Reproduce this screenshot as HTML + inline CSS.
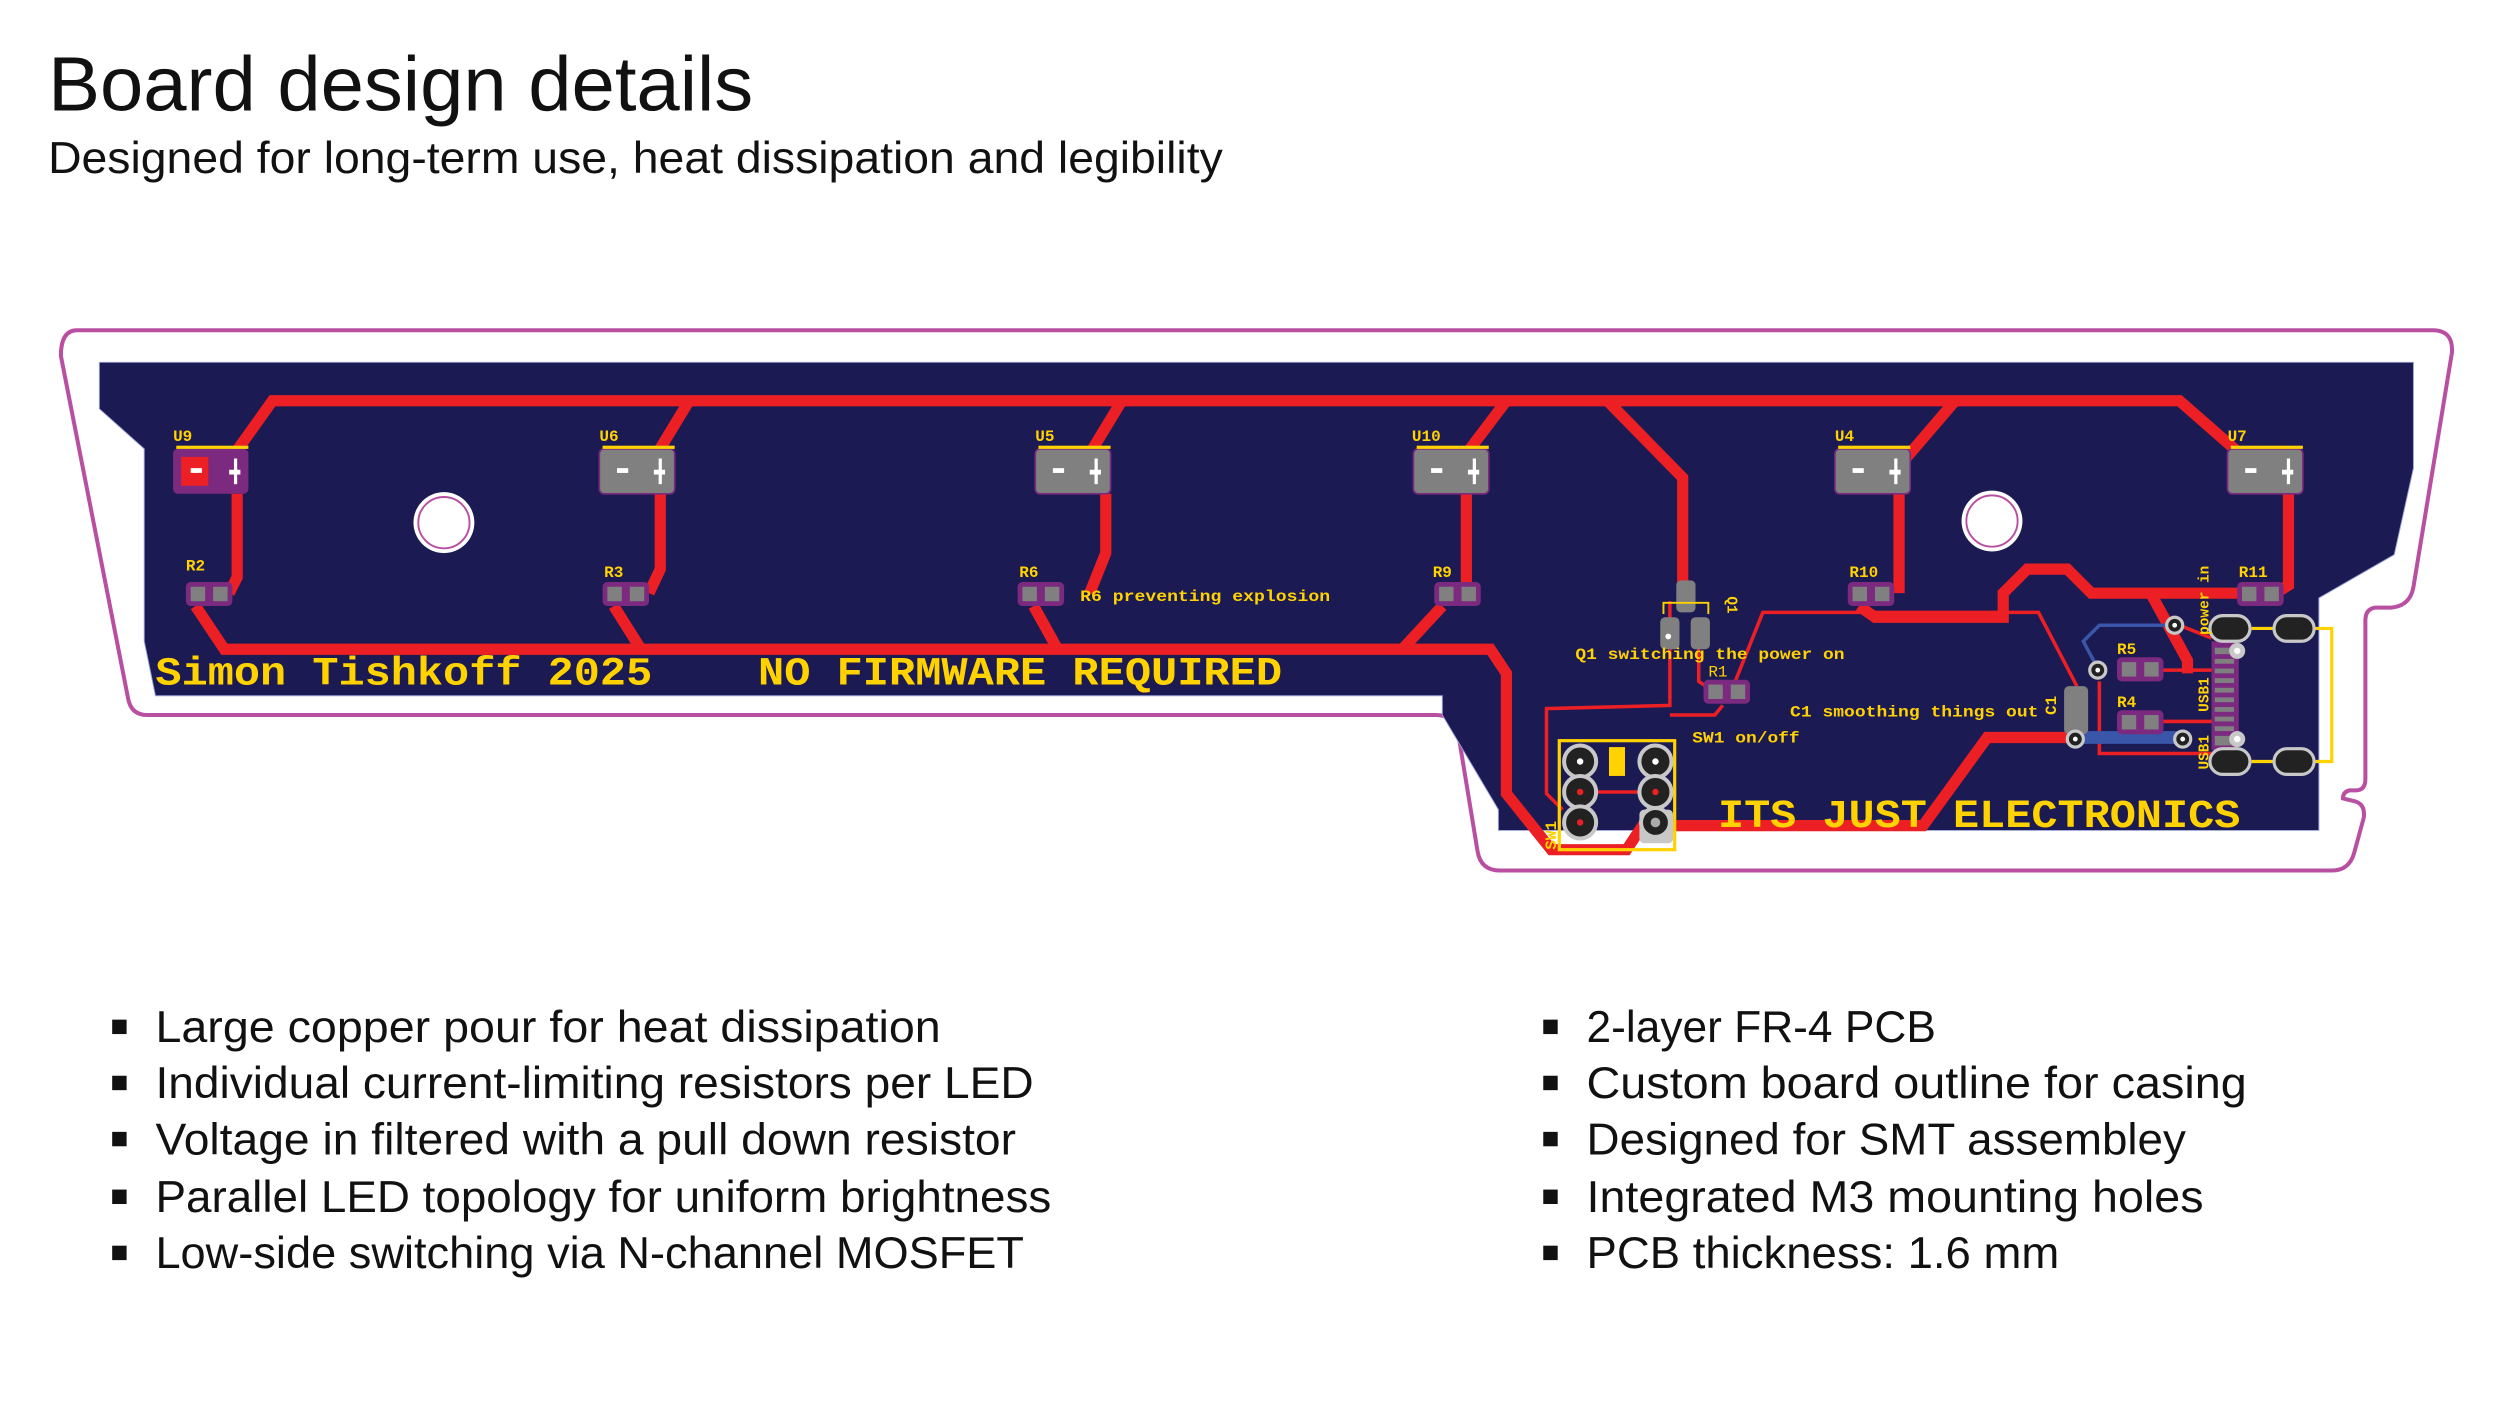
<!DOCTYPE html>
<html><head><meta charset="utf-8"><style>
html,body{margin:0;padding:0;background:#fff;}
svg{display:block;}
.m{font-family:"Liberation Mono",monospace;font-weight:bold;fill:#ffd200;}
.s{font-family:"Liberation Sans",sans-serif;fill:#111;}
</style></head><body>
<svg width="2500" height="1406" viewBox="0 0 1560 877" preserveAspectRatio="none" xmlns="http://www.w3.org/2000/svg">
<rect width="1560" height="877" fill="#fff"/>
<text x="30" y="69" class="s" font-size="48" textLength="440" lengthAdjust="spacingAndGlyphs">Board design details</text>
<text x="30" y="108" class="s" font-size="28" textLength="733" lengthAdjust="spacingAndGlyphs">Designed for long-term use, heat dissipation and legibility</text>

<!-- board outline -->
<path d="M48,206 L1518,206 Q1531,206 1530,220 L1506,366 Q1504,378 1492,379 L1482,379 Q1476,380 1476,387 L1476,486 Q1476,493 1470,493 L1466,493 Q1462,494 1462,498 L1470,500 Q1476,502 1475,510 L1469,532 Q1466,543 1455,543 L936,543 Q924,543 922,531 L910,458 Q908,446 896,446 L92,446 Q82,446 80,436 L38,222 Q38,206 48,206 Z" fill="none" stroke="#b94fa0" stroke-width="2.5"/>
<!-- navy board -->
<path d="M62,226 L1506,226 L1506,292 L1494,346 L1447,373 L1447,518 L935,518 L935,505 L900,446 L900,434 L97,434 L90,400 L90,280 L62,255 Z" fill="#1c1a52" stroke="#9aa3d8" stroke-width="0.6"/>

<!-- thick red traces -->
<g fill="none" stroke="#ec2024" stroke-width="7" stroke-linejoin="miter">
<path d="M145,285 L170,250 L1360,250 L1400,285"/>
<path d="M410,283 L430,250"/>
<path d="M680,283 L700,250"/>
<path d="M915,283 L940,250"/>
<path d="M1175,285 L1190,285 L1220,250"/>
<path d="M1003,250 L1050,298 L1050,365"/>
<path d="M148,308 L148,360 L143,370"/>
<path d="M412,308 L412,355 L405,370"/>
<path d="M690,308 L690,345 L680,370"/>
<path d="M915,308 L915,370"/>
<path d="M1185,308 L1185,370"/>
<path d="M1428,308 L1428,365 L1420,370"/>
<path d="M122,378 L140,405 L930,405 L940,420 L940,495 L960,520 L968,530 L1015,530 L1025,515 L1048,515 L1200,515 L1240,460 L1295,460"/>
<path d="M383,378 L400,405"/>
<path d="M645,378 L660,405"/>
<path d="M900,378 L875,405"/>
<path d="M1160,378 L1170,385 L1250,385 L1250,370 L1265,355 L1290,355 L1305,370 L1400,370"/>
<path d="M1342,370 L1365,412 L1365,420"/>
</g>
<!-- thin traces -->
<g fill="none" stroke="#ec2024" stroke-width="2.2">
<path d="M1042,375 L1042,440 L965,442 L965,495 L975,505"/>
<path d="M1060,395 L1060,425 L1070,432"/>
<path d="M1080,432 L1100,382 L1272,382 L1296,428"/>
<path d="M1075,440 L1070,446 L1042,446"/>
<path d="M1310,425 L1310,470 L1380,470"/>
<path d="M1330,418 L1380,418"/>
<path d="M1330,450 L1380,450"/>
<path d="M985,494 L1033,494"/>
<path d="M1360,390 L1380,398"/>
</g>
<g fill="none" stroke="#3a56a8" stroke-width="2.2">
<path d="M1360,390 L1310,390 L1300,400 L1308,415"/>
</g>
<rect x="1295" y="456" width="68" height="8" fill="#3a56a8"/>

<!-- mounting holes -->
<circle cx="277" cy="326" r="19" fill="#fff"/><circle cx="277" cy="326" r="16" fill="#fff" stroke="#b94fa0" stroke-width="1.2"/>
<circle cx="1243" cy="325" r="19" fill="#fff"/><circle cx="1243" cy="325" r="16" fill="#fff" stroke="#b94fa0" stroke-width="1.2"/>

<!-- LEDs -->
<g>
<rect x="108" y="280" width="47" height="28" rx="3" fill="#7b2a7f"/>
<rect x="113" y="285" width="17" height="18" fill="#ec2024"/>
<rect x="119" y="292" width="7" height="3" fill="#fff"/>
<rect x="146" y="286" width="2" height="16" fill="#fff"/><rect x="143" y="293" width="7" height="3" fill="#fff"/>
</g>
<g id="led">
<rect x="374" y="280" width="47" height="28" rx="3" fill="#808080" stroke="#7b2a7f" stroke-width="1"/>
<rect x="385" y="292" width="7" height="3" fill="#fff"/>
<rect x="411" y="286" width="2" height="16" fill="#fff"/><rect x="408" y="293" width="7" height="3" fill="#fff"/>
<rect x="376" y="278" width="45" height="2" fill="#ffd200"/>
</g>
<use href="#led" x="272"/><use href="#led" x="508"/><use href="#led" x="771"/><use href="#led" x="1016"/>
<rect x="110" y="278" width="45" height="2" fill="#ffd200"/>
<g class="m" font-size="10">
<text x="108" y="275">U9</text><text x="374" y="275">U6</text><text x="646" y="275">U5</text>
<text x="881" y="275">U10</text><text x="1145" y="275">U4</text><text x="1390" y="275">U7</text>
<text x="116" y="356">R2</text><text x="377" y="360">R3</text><text x="636" y="360">R6</text>
<text x="894" y="360">R9</text><text x="1154" y="360">R10</text><text x="1397" y="360">R11</text>
<text x="1321" y="408">R5</text><text x="1321" y="441">R4</text><text x="1066" y="422" font-weight="normal">R1</text>
</g>

<!-- resistors -->
<g id="res">
<rect x="116" y="363" width="29" height="15" rx="3" fill="#7b2a7f"/>
<rect x="119" y="366" width="9" height="9" fill="#808080"/><rect x="133" y="366" width="9" height="9" fill="#808080"/>
</g>
<use href="#res" x="260"/><use href="#res" x="519"/><use href="#res" x="779"/><use href="#res" x="1037"/>
<use href="#res" x="1280"/><use href="#res" x="947" y="61"/><use href="#res" x="1205" y="47"/><use href="#res" x="1205" y="80"/>

<!-- Q1 -->
<rect x="1046" y="362" width="12" height="20" rx="3" fill="#808080"/>
<rect x="1036" y="385" width="12" height="20" rx="3" fill="#808080"/>
<rect x="1055" y="385" width="12" height="20" rx="3" fill="#808080"/>
<path d="M1038,383 L1038,376 L1066,376 L1066,383" fill="none" stroke="#ffd200" stroke-width="1.2"/>
<circle cx="1041" cy="397" r="1.8" fill="#fff"/>
<!-- C1 -->
<rect x="1288" y="428" width="15" height="30" rx="3" fill="#808080"/>
<text x="1078" y="372" class="m" font-size="9" font-weight="normal" transform="rotate(90 1078 372)">Q1</text>
<text x="1283" y="446" class="m" font-size="10" font-weight="normal" transform="rotate(-90 1283 446)">C1</text>

<!-- vias -->
<g fill="#222" stroke="#c8c8c8" stroke-width="2">
<circle cx="1357" cy="390" r="5"/><circle cx="1309" cy="418" r="5"/><circle cx="1295" cy="461" r="5"/><circle cx="1362" cy="461" r="5"/>
</g>
<g fill="#fff"><circle cx="1357" cy="390" r="1.5"/><circle cx="1309" cy="418" r="1.5"/><circle cx="1295" cy="461" r="1.5"/><circle cx="1362" cy="461" r="1.5"/></g>

<!-- USB -->
<rect x="1380" y="400" width="17" height="68" fill="#7b2a7f"/>
<g fill="#808080"><rect x="1382" y="404" width="12" height="4"/><rect x="1382" y="411" width="12" height="3"/><rect x="1382" y="417" width="12" height="3"/><rect x="1382" y="423" width="12" height="3"/><rect x="1382" y="429" width="12" height="3"/><rect x="1382" y="435" width="12" height="3"/><rect x="1382" y="441" width="12" height="3"/><rect x="1382" y="447" width="12" height="3"/><rect x="1382" y="453" width="12" height="3"/><rect x="1382" y="459" width="12" height="6"/></g>
<path d="M1405,392 L1455,392 L1455,475 L1405,475" fill="none" stroke="#ffd200" stroke-width="2"/>
<g fill="#222" stroke="#c8c8c8" stroke-width="2">
<rect x="1379" y="384" width="25" height="16" rx="8"/><rect x="1419" y="384" width="25" height="16" rx="8"/>
<rect x="1379" y="467" width="25" height="16" rx="8"/><rect x="1419" y="467" width="25" height="16" rx="8"/>
</g>
<circle cx="1396" cy="406" r="5" fill="#c8c8c8"/><circle cx="1396" cy="406" r="2" fill="#fff"/>
<circle cx="1396" cy="461" r="5" fill="#c8c8c8"/><circle cx="1396" cy="461" r="2" fill="#fff"/>
<g class="m" font-size="9">
<text x="1378" y="396" transform="rotate(-90 1378 396)">power in</text>
<text x="1378" y="444" transform="rotate(-90 1378 444)">USB1</text>
<text x="1378" y="480" transform="rotate(-90 1378 480)">USB1</text>
</g>

<!-- SW1 -->
<rect x="973" y="462" width="72" height="68" fill="none" stroke="#ffd200" stroke-width="2"/>
<rect x="1004" y="466" width="10" height="18" fill="#ffd200"/>
<rect x="1023" y="505" width="21" height="21" rx="3" fill="#c8c8c8"/>
<g fill="#222" stroke="#c8c8c8" stroke-width="2.5">
<circle cx="986" cy="475" r="10"/><circle cx="986" cy="494" r="10"/><circle cx="986" cy="513" r="10"/>
<circle cx="1033" cy="475" r="10"/><circle cx="1033" cy="494" r="10"/><circle cx="1033" cy="513" r="9"/>
</g>
<g><circle cx="986" cy="475" r="2" fill="#fff"/><circle cx="986" cy="494" r="2" fill="#ec2024"/><circle cx="986" cy="513" r="2" fill="#ec2024"/>
<circle cx="1033" cy="475" r="2" fill="#fff"/><circle cx="1033" cy="494" r="2" fill="#ec2024"/><circle cx="1033" cy="513" r="3" fill="#aaa"/></g>
<text x="971" y="530" class="m" font-size="10" font-weight="normal" transform="rotate(-90 971 530)">SW1</text>

<!-- labels -->
<g class="m" font-size="10">
<text x="674" y="375" textLength="156" lengthAdjust="spacingAndGlyphs">R6 preventing explosion</text>
<text x="983" y="411" textLength="168" lengthAdjust="spacingAndGlyphs">Q1 switching the power on</text>
<text x="1117" y="447" textLength="155" lengthAdjust="spacingAndGlyphs">C1 smoothing things out</text>
<text x="1056" y="463" textLength="67" lengthAdjust="spacingAndGlyphs">SW1 on/off</text>
</g>
<g class="m" font-size="25">
<text x="97" y="427" textLength="310" lengthAdjust="spacingAndGlyphs">Simon Tishkoff 2025</text>
<text x="473" y="427" textLength="327" lengthAdjust="spacingAndGlyphs">NO FIRMWARE REQUIRED</text>
<text x="1072" y="516" textLength="326" lengthAdjust="spacingAndGlyphs">ITS JUST ELECTRONICS</text>
</g>

<!-- bullets -->
<g fill="#111">
<rect x="70" y="636" width="9" height="9"/><rect x="70" y="671" width="9" height="9"/><rect x="70" y="706" width="9" height="9"/><rect x="70" y="742" width="9" height="9"/><rect x="70" y="777" width="9" height="9"/>
<rect x="963" y="636" width="9" height="9"/><rect x="963" y="671" width="9" height="9"/><rect x="963" y="706" width="9" height="9"/><rect x="963" y="742" width="9" height="9"/><rect x="963" y="777" width="9" height="9"/>
</g>
<g class="s" font-size="28">
<text x="97" y="650" textLength="490" lengthAdjust="spacingAndGlyphs">Large copper pour for heat dissipation</text>
<text x="97" y="685" textLength="548" lengthAdjust="spacingAndGlyphs">Individual current-limiting resistors per LED</text>
<text x="97" y="720" textLength="537" lengthAdjust="spacingAndGlyphs">Voltage in filtered with a pull down resistor</text>
<text x="97" y="756" textLength="559" lengthAdjust="spacingAndGlyphs">Parallel LED topology for uniform brightness</text>
<text x="97" y="791" textLength="542" lengthAdjust="spacingAndGlyphs">Low-side switching via N-channel MOSFET</text>
<text x="990" y="650" textLength="218" lengthAdjust="spacingAndGlyphs">2-layer FR-4 PCB</text>
<text x="990" y="685" textLength="412" lengthAdjust="spacingAndGlyphs">Custom board outline for casing</text>
<text x="990" y="720" textLength="374" lengthAdjust="spacingAndGlyphs">Designed for SMT assembley</text>
<text x="990" y="756" textLength="385" lengthAdjust="spacingAndGlyphs">Integrated M3 mounting holes</text>
<text x="990" y="791" textLength="295" lengthAdjust="spacingAndGlyphs">PCB thickness: 1.6 mm</text>
</g>
</svg>
</body></html>
